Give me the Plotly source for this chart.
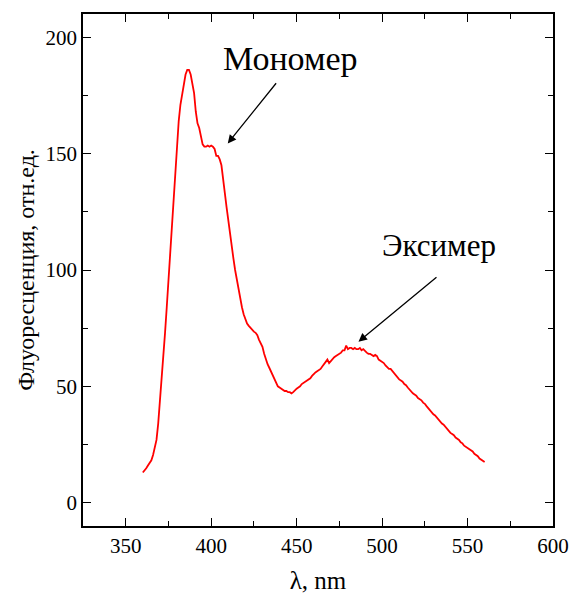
import plotly.graph_objects as go

wavelength = list(range(360, 561))
intensity = [
    13.0, 13.8, 14.8, 16.0, 17.0, 18.2, 20.5, 23.5, 27.0, 34.0,   # 360-369
    43.0, 52.0, 62.0, 73.0, 84.0, 95.0, 106.0, 117.0, 129.0, 142.0,  # 370-379
    155.0, 164.0, 171.0, 176.0, 180.0, 184.0, 186.0, 186.0, 184.0, 180.0,  # 380-389
    176.0, 168.0, 163.0, 161.0, 158.0, 154.0, 153.0, 153.0, 153.5, 153.0,  # 390-399
    153.5, 153.0, 152.0, 149.0, 149.0, 147.5, 145.0, 140.0, 133.0, 127.0,  # 400-409
    121.0, 115.0, 110.0, 105.0, 100.0, 96.0, 91.0, 87.0, 84.0, 81.0,  # 410-419
    79.0, 77.0, 76.0, 75.0, 74.0, 73.5, 73.0, 72.0, 70.0, 68.5,  # 420-429
    67.0, 64.0, 61.5, 59.5, 58.0, 56.5, 55.0, 53.0, 51.5, 50.0,  # 430-439
    49.5, 49.0, 48.5, 48.0, 48.0, 47.5, 47.5, 47.0, 47.5, 48.5,  # 440-449
    49.0, 49.5, 50.0, 51.0, 51.5, 52.0, 52.5, 53.0, 53.5, 54.5,  # 450-459
    55.5, 56.0, 56.5, 57.0, 57.5, 58.5, 59.5, 60.5, 61.5, 60.0,  # 460-469
    61.0, 62.0, 62.5, 63.0, 63.5, 64.0, 64.5, 65.5, 65.5, 67.5,  # 470-479
    66.0, 66.5, 66.5, 66.0, 66.5, 66.0, 66.0, 66.5, 65.5, 66.0,  # 480-489
    65.0, 64.5, 64.0, 64.0, 63.5, 63.0, 63.5, 63.0, 61.5, 61.0,  # 490-499
    60.5, 60.0, 59.0, 58.0, 57.5, 57.5, 56.5, 56.0, 55.0, 54.0,  # 500-509
    53.0, 52.5, 52.0, 51.0, 50.5, 49.5, 48.5, 47.5, 47.0, 46.5,  # 510-519
    46.0, 45.0, 44.5, 44.0, 43.0, 42.5, 41.5, 40.5, 40.0, 39.0,  # 520-529
    38.0, 37.5, 36.5, 36.0, 35.0, 34.0, 33.5, 32.5, 32.0, 31.0,  # 530-539
    30.0, 29.5, 29.0, 28.0, 27.5, 27.0, 26.0, 25.5, 24.5, 24.0,  # 540-549
    23.5, 23.0, 22.5, 22.0, 21.0, 20.5, 20.0, 19.0, 18.5, 18.0,  # 550-559
    17.5,  # 560
]

x_ticks = [350, 400, 450, 500, 550, 600]
y_ticks = [0, 50, 100, 150, 200]

labels = ["Мономер", "Эксимер"]
label_pos = [(446.5, 191.0), (533.5, 110.5)]
arrow_head = [(409.7, 154.4), (486.2, 69.2)]
arrow_tail = [(438.7, 180.9), (532.7, 97.4)]

FONT = "Liberation Serif"

fig = go.Figure()
fig.add_trace(go.Scatter(
    x=wavelength, y=intensity, mode="lines",
    line=dict(color="#ff0000", width=1.8),
    showlegend=False, hoverinfo="skip",
))

for (hx, hy), (tx, ty) in zip(arrow_head, arrow_tail):
    fig.add_annotation(
        x=hx, y=hy, ax=tx, ay=ty, xref="x", yref="y", axref="x", ayref="y",
        text="", showarrow=True, arrowhead=2, arrowsize=1.3, arrowwidth=1.3,
        arrowcolor="black",
    )

fig.add_annotation(x=label_pos[0][0], y=label_pos[0][1], xref="x", yref="y",
                   text=labels[0], showarrow=False,
                   font=dict(family=FONT, size=34, color="black"))
fig.add_annotation(x=label_pos[1][0], y=label_pos[1][1], xref="x", yref="y",
                   text=labels[1], showarrow=False,
                   font=dict(family=FONT, size=31, color="black"))

axis_common = dict(
    showline=True, linecolor="black", linewidth=1.5, mirror="allticks",
    ticks="inside", ticklen=8, tickwidth=1.2, tickcolor="black",
    showgrid=False, zeroline=False, automargin=False,
    tickfont=dict(family=FONT, size=21, color="black"),
)

fig.update_xaxes(
    range=[325, 600], tickvals=x_ticks, ticktext=[str(v) for v in x_ticks],
    minor=dict(ticks="inside", ticklen=5, tickwidth=1, tickcolor="black",
               tickvals=[375, 425, 475, 525, 575]),
    title=dict(text="λ, nm", font=dict(family=FONT, size=25, color="black"),
               standoff=18),
    **axis_common,
)
fig.update_yaxes(
    range=[-10, 210], tickvals=y_ticks, ticktext=[str(v) for v in y_ticks],
    minor=dict(ticks="inside", ticklen=5, tickwidth=1, tickcolor="black",
               tickvals=[25, 75, 125, 175]),
    title=dict(text="Флуоресценция, отн.ед.",
               font=dict(family=FONT, size=24, color="black"), standoff=4),
    **axis_common,
)

fig.update_layout(
    width=569, height=594,
    margin=dict(l=83, r=16, t=14, b=68),
    paper_bgcolor="white", plot_bgcolor="white",
    font=dict(family=FONT),
)

fig.write_html("out.html")
